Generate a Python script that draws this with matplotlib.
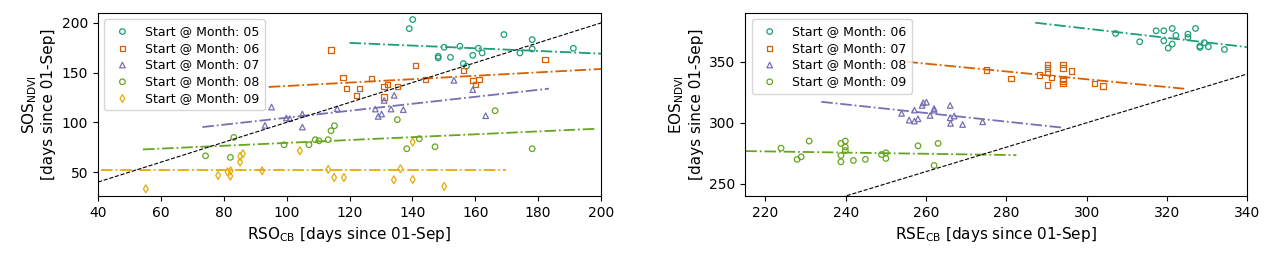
import numpy as np
import matplotlib
matplotlib.use('Agg')
import matplotlib.pyplot as plt

plt.rcParams['mathtext.fontset'] = 'dejavusans'

colors = ['#1b9e77', '#d95f02', '#7570b3', '#66a61e', '#e6ab02']
markers = ['o', 's', '^', 'o', 'd']

# ---- left panel: SOS vs RSO ----
sos_months = ['05', '06', '07', '08', '09']
sos_x = [
    [139.0, 140.1, 150.1, 148.2, 148.2, 152.1, 155.1, 156.2, 157.2, 159.2, 161.0, 162.2, 169.1, 174.2, 178.1, 178.1, 191.2],
    [114.1, 141.0, 118.0, 119.0, 123.1, 122.2, 127.0, 131.0, 132.1, 131.0, 135.2, 144.2, 156.2, 159.2, 160.1, 161.2, 182.2],
    [95.2, 93.1, 99.9, 101.0, 105.0, 105.0, 116.1, 128.2, 129.1, 130.2, 131.0, 133.2, 134.2, 137.1, 153.2, 159.2, 163.3],
    [74.2, 82.1, 83.2, 99.2, 107.1, 109.1, 110.3, 113.2, 114.1, 115.2, 135.2, 138.2, 142.2, 147.2, 166.3, 178.1],
    [55.2, 78.2, 81.2, 82.2, 82.1, 85.2, 85.2, 86.1, 92.2, 104.2, 113.2, 115.1, 118.2, 134.1, 136.2, 140.1, 140.1, 150.1],
]
sos_y = [
    [194.3, 203.4, 175.5, 166.4, 164.8, 165.4, 176.5, 159.1, 156.4, 167.4, 174.5, 169.8, 188.3, 169.8, 183.2, 173.8, 174.5],
    [172.5, 157.4, 145.3, 134.2, 134.2, 126.8, 144.3, 136.2, 138.3, 125.5, 136.2, 143.0, 152.3, 142.3, 137.9, 143.0, 163.4],
    [115.4, 97.0, 104.4, 103.7, 108.4, 95.3, 113.8, 113.4, 106.0, 108.4, 122.1, 113.4, 127.2, 112.8, 142.3, 132.9, 106.7],
    [66.4, 64.8, 84.9, 77.5, 77.5, 82.6, 81.5, 82.6, 91.6, 96.6, 102.7, 73.5, 83.6, 75.5, 111.7, 73.5],
    [33.2, 46.6, 50.3, 51.3, 46.0, 60.1, 65.8, 68.5, 51.3, 71.5, 52.7, 44.6, 44.6, 42.3, 53.4, 80.2, 42.6, 35.6],
]
# fitted trend lines (end points)
sos_fit_x = [[120.0, 200.0], [94.3, 200.0], [73.2, 183.4], [54.3, 198.6], [41.1, 169.8]]
sos_fit_y = [[179.9, 169.1], [135.6, 153.7], [95.3, 133.9], [72.8, 93.6], [52.0, 52.0]]

# ---- right panel: EOS vs RSE ----
eos_months = ['06', '07', '08', '09']
eos_x = [
    [307.2, 313.2, 317.3, 319.2, 319.2, 320.3, 321.3, 321.3, 322.2, 325.2, 325.2, 327.1, 328.2, 328.2, 329.3, 330.3, 334.3],
    [275.0, 281.2, 288.2, 290.2, 290.2, 290.2, 290.2, 291.2, 294.1, 294.1, 294.1, 294.1, 294.1, 296.2, 302.0, 304.1],
    [253.9, 255.8, 257.1, 257.1, 258.0, 259.0, 259.3, 260.1, 261.0, 262.0, 262.0, 266.0, 266.0, 266.1, 267.0, 269.1, 274.1],
    [223.9, 227.9, 228.9, 230.9, 238.8, 238.8, 238.8, 239.9, 239.9, 239.9, 241.9, 244.9, 248.9, 250.0, 250.0, 258.0, 262.0, 263.0],
]
eos_y = [
    [373.2, 366.4, 375.4, 375.4, 367.2, 361.2, 364.5, 377.3, 371.6, 372.7, 369.9, 377.3, 362.8, 361.7, 365.6, 362.3, 360.1],
    [343.2, 336.3, 339.1, 347.8, 345.1, 341.5, 331.1, 337.2, 347.8, 345.1, 336.1, 334.2, 332.2, 342.3, 332.2, 330.1],
    [307.7, 302.2, 310.4, 301.4, 303.3, 314.2, 316.4, 316.9, 306.0, 311.7, 310.4, 314.2, 304.1, 299.5, 305.5, 298.6, 300.8],
    [279.2, 270.0, 272.1, 285.0, 283.1, 273.2, 268.0, 285.0, 280.1, 277.3, 269.1, 270.0, 274.0, 275.4, 270.8, 281.1, 265.0, 283.1],
]
eos_fit_x = [[287.2, 340.0], [255.1, 324.3], [233.9, 294.3], [215.0, 282.5]]
eos_fit_y = [[382.0, 362.0], [350.0, 327.9], [317.2, 295.9], [276.8, 273.5]]


def draw_panel(ax, months, xs, ys, fx, fy, lim_x, lim_y):
    for i in range(len(months)):
        ax.scatter(xs[i], ys[i], s=16, marker=markers[i], facecolors='none',
                   edgecolors=colors[i], linewidths=0.9,
                   label='Start @ Month: ' + months[i])
        ax.plot(fx[i], fy[i], linestyle='-.', color=colors[i], lw=1.3)
    ax.plot(lim_x, lim_x, 'k--', lw=0.8)
    ax.set_xlim(lim_x)
    ax.set_ylim(lim_y)
    ax.tick_params(labelsize=10)
    ax.legend(loc='upper left', fontsize=9, scatterpoints=1,
              labelspacing=0.3, borderpad=0.45)


fig = plt.figure(figsize=(12.78, 2.56), dpi=100)
ax1 = fig.add_axes([0.0767, 0.2344, 0.3936, 0.715])
ax2 = fig.add_axes([0.5832, 0.2344, 0.3928, 0.715])

draw_panel(ax1, sos_months, sos_x, sos_y, sos_fit_x, sos_fit_y, (40, 200), (26, 210))
ax1.set_xlabel(r'RSO$_{\mathrm{CB}}$ [days since 01-Sep]', fontsize=11)
ax1.set_ylabel('SOS$_{\\mathrm{NDVI}}$\n[days since 01-Sep]', fontsize=11)

draw_panel(ax2, eos_months, eos_x, eos_y, eos_fit_x, eos_fit_y, (215, 340), (240, 390))
ax2.set_xlabel(r'RSE$_{\mathrm{CB}}$ [days since 01-Sep]', fontsize=11)
ax2.set_ylabel('EOS$_{\\mathrm{NDVI}}$\n[days since 01-Sep]', fontsize=11)
ax2.set_yticks([250, 300, 350])

fig.savefig('out.png', dpi=100)
